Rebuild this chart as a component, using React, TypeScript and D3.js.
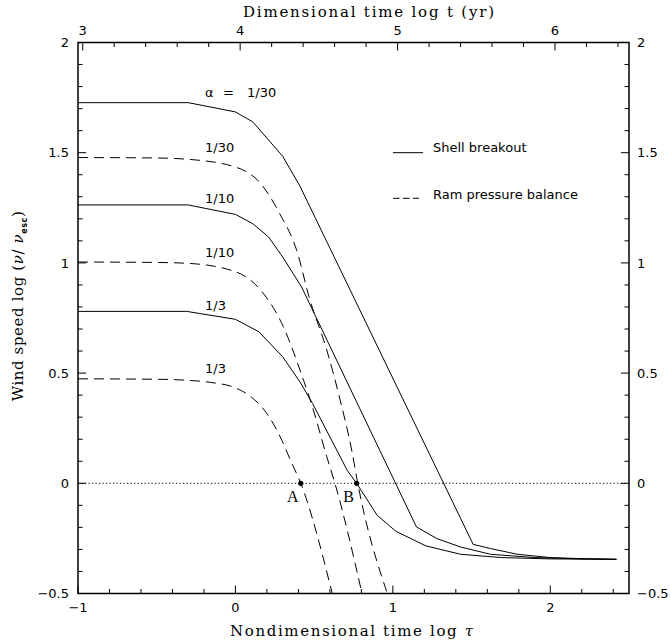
import React from "react";
import * as d3 from "d3";

// ---- data (log tau, log v/v_esc) ----
const shellAlpha30: [number, number][] = [
  [-1, 1.727], [-0.3, 1.727], [0, 1.685], [0.11, 1.64], [0.3, 1.484], [0.41, 1.348],
  [1.51, -0.277], [1.62, -0.296], [1.79, -0.322], [2.0, -0.337], [2.2, -0.342], [2.42, -0.345],
];
const shellAlpha10: [number, number][] = [
  [-1, 1.263], [-0.3, 1.263], [0, 1.22], [0.11, 1.178], [0.21, 1.118], [0.3, 1.027], [0.42, 0.891],
  [1.15, -0.198], [1.28, -0.251], [1.43, -0.289], [1.62, -0.322], [1.9, -0.337], [2.2, -0.343], [2.42, -0.345],
];
const shellAlpha3: [number, number][] = [
  [-1, 0.78], [-0.31, 0.78], [0, 0.744], [0.15, 0.687], [0.3, 0.574], [0.41, 0.46], [0.49, 0.362],
  [0.71, 0.059], [0.77, 0], [0.9, -0.145], [1.02, -0.218], [1.21, -0.284], [1.43, -0.322],
  [1.69, -0.337], [2.0, -0.343], [2.42, -0.345],
];
const ramAlpha30: [number, number][] = [
  [-1, 1.478], [-0.5, 1.476], [-0.3, 1.47], [0, 1.435], [0.16, 1.36], [0.28, 1.225], [0.39, 1.055],
  [0.47, 0.84], [0.58, 0.605], [0.665, 0.378], [0.74, 0.145], [0.777, 0.0], [0.965, -0.5],
];
const ramAlpha10: [number, number][] = [
  [-1, 1.004], [-0.5, 1.002], [-0.3, 0.998], [0, 0.96], [0.177, 0.862], [0.304, 0.711], [0.41, 0.514],
  [0.495, 0.333], [0.58, 0.121], [0.632, 0.0], [0.804, -0.5],
];
const ramAlpha3: [number, number][] = [
  [-1, 0.474], [-0.5, 0.472], [-0.32, 0.468], [-0.16, 0.458], [0, 0.433], [0.1, 0.392], [0.2, 0.316],
  [0.285, 0.21], [0.35, 0.104], [0.415, 0.0], [0.615, -0.5],
];
const markedPoints = [
  { name: "A", tau: 0.415, v: 0 },
  { name: "B", tau: 0.77, v: 0 },
];
const curveLabels = [
  { text: "1/30", tau: -0.19, v: 1.478, kind: "ram" },
  { text: "1/10", tau: -0.19, v: 1.263, kind: "shell" },
  { text: "1/10", tau: -0.19, v: 1.004, kind: "ram" },
  { text: "1/3", tau: -0.19, v: 0.78, kind: "shell" },
  { text: "1/3", tau: -0.19, v: 0.474, kind: "ram" },
];
const tauMajorTicks = [-1, 0, 1, 2];
const vMajorTicks = [-0.5, 0, 0.5, 1, 1.5, 2];
const logtMajorTicks = [3, 4, 5, 6];
const logtOffset = 3.97; // log t = log tau + offset

const W = 670;
const H = 640;

export default function App() {
  const x = d3.scaleLinear().domain([-1, 2.5]).range([78, 629]);
  const y = d3.scaleLinear().domain([-0.5, 2]).range([593.5, 42.5]);
  const xt = (lt: number) => x(lt - logtOffset);

  const solid = d3.line<[number, number]>().x((d) => x(d[0])).y((d) => y(d[1]));
  const smooth = d3
    .line<[number, number]>()
    .x((d) => x(d[0]))
    .y((d) => y(d[1]))
    .curve(d3.curveMonotoneX);

  const tauMinor = d3.range(-1, 2.5001, 0.2).filter((t) => !tauMajorTicks.some((m) => Math.abs(m - t) < 1e-6));
  const vMinor = d3.range(-0.5, 2.0001, 0.1).filter((t) => !vMajorTicks.some((m) => Math.abs(m - t) < 1e-6));
  const logtMinor = d3
    .range(3, 6.5, 0.2)
    .filter((t) => !logtMajorTicks.some((m) => Math.abs(m - t) < 1e-6))
    .filter((t) => t - logtOffset <= 2.5 && t - logtOffset >= -1);

  const fmt = (v: number) => String(v).replace("-", "\u2212");
  const sans = "'DejaVu Sans', sans-serif";
  const serif = "'DejaVu Serif', serif";
  const MAJ = 8;
  const MIN = 4.5;
  const [x0, x1] = x.range();
  const [yb, yt] = y.range();

  return (
    <svg
      width={W}
      height={H}
      viewBox={`0 0 ${W} ${H}`}
      style={{ position: "absolute", left: 0, top: 0, background: "#fff" }}
    >
      <rect x={0} y={0} width={W} height={H} fill="#fff" />
      <defs>
        <clipPath id="plotClip">
          <rect x={x0} y={yt} width={x1 - x0} height={yb - yt} />
        </clipPath>
      </defs>

      {/* zero reference */}
      <line x1={x0} x2={x1} y1={y(0)} y2={y(0)} stroke="#000" strokeWidth={1} strokeDasharray="1.2,2.3" />

      <g clipPath="url(#plotClip)" fill="none" stroke="#000" strokeWidth={1}>
        <path d={solid(shellAlpha30) || ""} />
        <path d={solid(shellAlpha10) || ""} />
        <path d={solid(shellAlpha3) || ""} />
        <path d={smooth(ramAlpha30) || ""} strokeDasharray="10,6" />
        <path d={smooth(ramAlpha10) || ""} strokeDasharray="10,6" />
        <path d={smooth(ramAlpha3) || ""} strokeDasharray="10,6" />
      </g>

      {markedPoints.map((p) => (
        <g key={p.name}>
          <circle cx={x(p.tau)} cy={y(p.v)} r={2.6} fill="#000" />
          <text
            x={x(p.tau) - 8}
            y={y(p.v) + 19}
            fontFamily="'Liberation Serif', serif"
            fontSize={16}
            textAnchor="middle"
          >
            {p.name}
          </text>
        </g>
      ))}

      {/* curve labels */}
      <g fontFamily={sans} fontSize={13}>
        <text x={205} y={96.7}>α</text>
        <text x={223} y={96.7}>=</text>
        <text x={247} y={96.7}>1/30</text>
        {curveLabels.map((l, i) => (
          <text key={i} x={205} y={y(l.v) - (l.kind === "ram" ? 5.5 : 1.8)}>
            {l.text}
          </text>
        ))}
      </g>

      {/* legend */}
      <g fontFamily={sans} fontSize={13}>
        <line x1={393} x2={423} y1={152.7} y2={152.7} stroke="#000" strokeWidth={1} />
        <text x={433} y={151.7}>Shell breakout</text>
        <line x1={393} x2={419} y1={198.3} y2={198.3} stroke="#000" strokeWidth={1} strokeDasharray="6.5,3.5" />
        <text x={433} y={199}>Ram pressure balance</text>
      </g>

      {/* frame */}
      <rect x={x0} y={yt} width={x1 - x0} height={yb - yt} fill="none" stroke="#000" strokeWidth={1.5} />

      {/* bottom & top ticks (tau) */}
      <g stroke="#000" strokeWidth={1}>
        {tauMajorTicks.map((t) => (
          <line key={"bM" + t} x1={x(t)} x2={x(t)} y1={yb} y2={yb - MAJ} />
        ))}
        {tauMinor.map((t) => (
          <line key={"bm" + t} x1={x(t)} x2={x(t)} y1={yb} y2={yb - MIN} />
        ))}
        {logtMajorTicks.map((t) => (
          <line key={"tM" + t} x1={xt(t)} x2={xt(t)} y1={yt} y2={yt + MAJ} />
        ))}
        {logtMinor.map((t) => (
          <line key={"tm" + t} x1={xt(t)} x2={xt(t)} y1={yt} y2={yt + MIN} />
        ))}
        {vMajorTicks.map((v) => (
          <g key={"vM" + v}>
            <line x1={x0} x2={x0 + MAJ} y1={y(v)} y2={y(v)} />
            <line x1={x1} x2={x1 - MAJ} y1={y(v)} y2={y(v)} />
          </g>
        ))}
        {vMinor.map((v) => (
          <g key={"vm" + v}>
            <line x1={x0} x2={x0 + MIN} y1={y(v)} y2={y(v)} />
            <line x1={x1} x2={x1 - MIN} y1={y(v)} y2={y(v)} />
          </g>
        ))}
      </g>

      {/* tick labels */}
      <g fontFamily={sans} fontSize={13} fill="#000">
        {tauMajorTicks.map((t) => (
          <text key={"bl" + t} x={x(t)} y={612} textAnchor="middle">
            {fmt(t)}
          </text>
        ))}
        {logtMajorTicks.map((t) => (
          <text key={"tl" + t} x={xt(t)} y={35} textAnchor="middle">
            {fmt(t)}
          </text>
        ))}
        {vMajorTicks.map((v) => (
          <g key={"vl" + v}>
            <text x={69} y={y(v) + 4.7} textAnchor="end">
              {fmt(v)}
            </text>
            <text x={637} y={y(v) + 4.7} textAnchor="start">
              {fmt(v)}
            </text>
          </g>
        ))}
      </g>

      {/* axis titles */}
      <text x={230} y={636} fontFamily={serif} fontSize={15} textLength={243} lengthAdjust="spacing">
        Nondimensional time log <tspan fontStyle="italic">τ</tspan>
      </text>
      <text x={243} y={17} fontFamily={serif} fontSize={15} textLength={251} lengthAdjust="spacing">
        Dimensional time log t (yr)
      </text>
      <text
        transform="translate(23,306) rotate(-90)"
        textAnchor="middle"
        fontFamily={serif}
        fontSize={15}
        letterSpacing={0.6}
      >
        Wind speed log (<tspan fontStyle="italic">ν</tspan>/ <tspan fontStyle="italic">ν</tspan>
        <tspan fontFamily={sans} fontSize={8} fontWeight="bold" dy={4}>
          esc
        </tspan>
        <tspan dy={-4}>)</tspan>
      </text>
    </svg>
  );
}
